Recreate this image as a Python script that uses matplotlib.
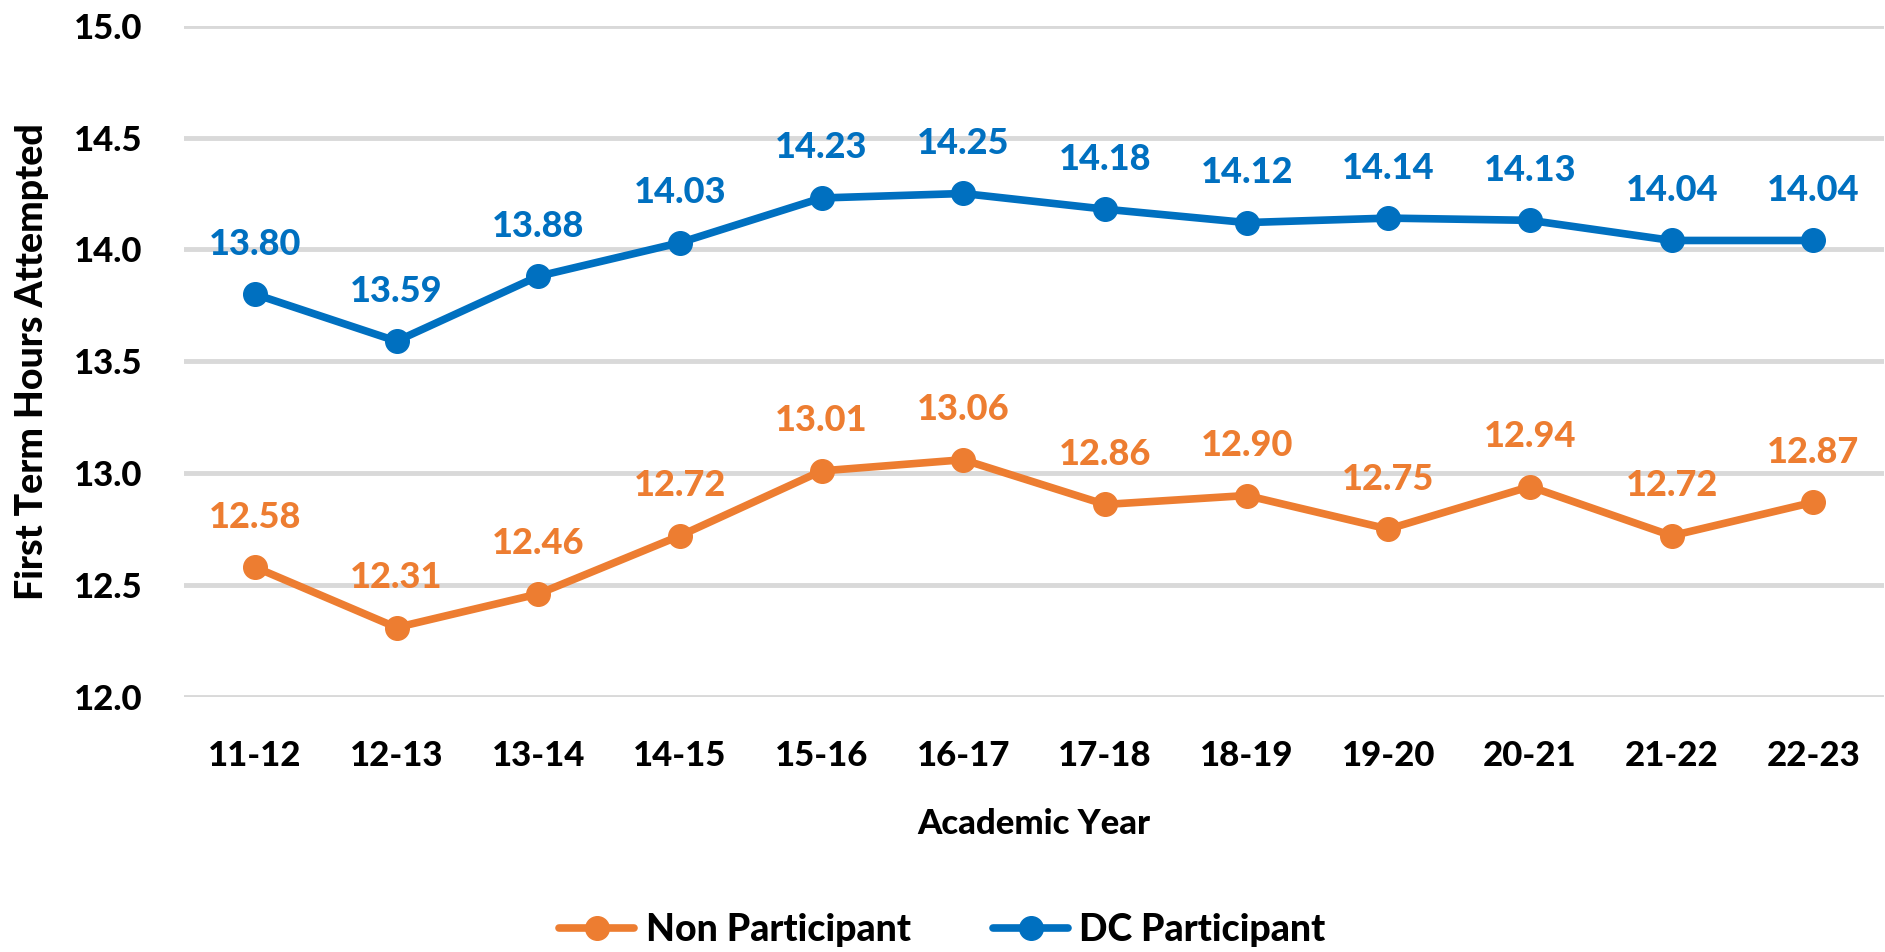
import matplotlib
matplotlib.use("Agg")
import matplotlib.pyplot as plt

years = ["11-12", "12-13", "13-14", "14-15", "15-16", "16-17",
         "17-18", "18-19", "19-20", "20-21", "21-22", "22-23"]
non_participant = [12.58, 12.31, 12.46, 12.72, 13.01, 13.06,
                   12.86, 12.90, 12.75, 12.94, 12.72, 12.87]
dc_participant = [13.80, 13.59, 13.88, 14.03, 14.23, 14.25,
                  14.18, 14.12, 14.14, 14.13, 14.04, 14.04]

orange = "#ED7D31"
blue = "#0070C0"

plt.rcParams["font.family"] = ["Lato", "DejaVu Sans"]
plt.rcParams["font.weight"] = "black"

fig = plt.figure(figsize=(18.85, 9.52), dpi=100)
ax = fig.add_axes([0.0976, 0.268, 0.902, 0.705])

x = list(range(len(years)))
for vals, col, name in [(non_participant, orange, "Non Participant"),
                        (dc_participant, blue, "DC Participant")]:
    ax.plot(x, vals, color=col, lw=5.5, marker="o", ms=17, label=name,
            solid_capstyle="round", zorder=3)
    for xi, v in zip(x, vals):
        ax.annotate(f"{v:.2f}", (xi, v), xytext=(0, 36), textcoords="offset points",
                    ha="center", va="center", color=col, fontsize=26,
                    fontweight="black")

ax.set_xlim(-0.5, len(years) - 0.5)
ax.set_ylim(12.0, 15.0)
ax.set_yticks([12.0, 12.5, 13.0, 13.5, 14.0, 14.5, 15.0])
ax.set_yticklabels([f"{t:.1f}" for t in ax.get_yticks()])
ax.set_xticks(x)
ax.set_xticklabels(years)
ax.tick_params(axis="both", length=0, labelsize=25)
ax.tick_params(axis="y", pad=30)
ax.tick_params(axis="x", pad=31)
ax.grid(axis="y", color="#D9D9D9", lw=3.5, zorder=0)
ax.set_axisbelow(True)
for s in ax.spines.values():
    s.set_visible(False)

ax.set_xlabel("Academic Year", fontsize=25, fontweight="black", labelpad=26)
ax.set_ylabel("First Term Hours Attempted", fontsize=27, fontweight="black", labelpad=18)

fig.legend(loc="lower center", bbox_to_anchor=(0.5, -0.03), ncol=2, frameon=False,
           handlelength=2.0, columnspacing=2.2, handletextpad=0.3,
           prop={"weight": "black", "size": 27})

fig.savefig("out.png", dpi=100)
